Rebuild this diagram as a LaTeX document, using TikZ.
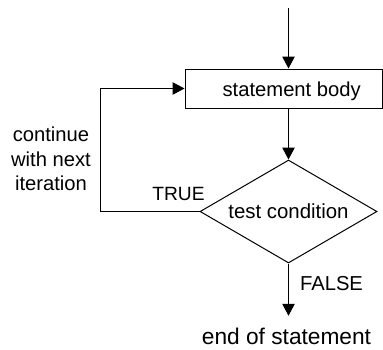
\documentclass[tikz,border=0pt]{standalone}
\usepackage{fontspec}
\setmainfont{Liberation Sans}
\usetikzlibrary{shapes.geometric,arrows.meta}
\begin{document}
\begin{tikzpicture}[x=1pt,y=-1pt,
  line width=1pt,
  flow/.style={-{Triangle[length=12pt,width=12.5pt]}},
  txt/.style={font=\fontsize{20.2}{24.5}\selectfont, inner sep=0pt},
  stepbox/.style={draw, rectangle, minimum width=197pt, minimum height=39pt, inner sep=0pt},
  decision/.style={draw, diamond, aspect=1.72, minimum width=177pt, minimum height=103pt,
                   inner sep=0pt, font=\fontsize{20.4}{24.5}\selectfont}]
\useasboundingbox (0,0) rectangle (383,349);

% blocks
\node[stepbox] (body) at (283.5,88.5) {};
\node[txt, anchor=base] (bodytext) at (291.7,96) {statement body};
\node[decision] (cond) at (288.5,211.5) {test condition};

% labels
\node[txt, anchor=base, font=\fontsize{19.2}{24}\selectfont] (truelbl) at (178.5,200.5) {TRUE};
\node[txt, anchor=base] (falselbl) at (331.5,290) {FALSE};
\node[txt, anchor=base, inner ysep=12pt, font=\fontsize{22.7}{26}\selectfont] (endtext) at (286.5,344.7) {end of statement};
\node[txt, anchor=base, align=center] (looptext) at (51,190.5) {continue\\with next\\iteration};

% connectors
\coordinate (start) at (288.5,8);
\coordinate (loop) at (100,88.5);
\draw[flow] (start) -- (start |- body.north);
\draw[flow] (cond.north |- body.south) -- (cond.north);
\draw[flow] (cond.west) -| (loop) -- (body.west);
\draw[flow] (cond.south) -- (cond.south |- endtext.north);
\end{tikzpicture}
\end{document}
